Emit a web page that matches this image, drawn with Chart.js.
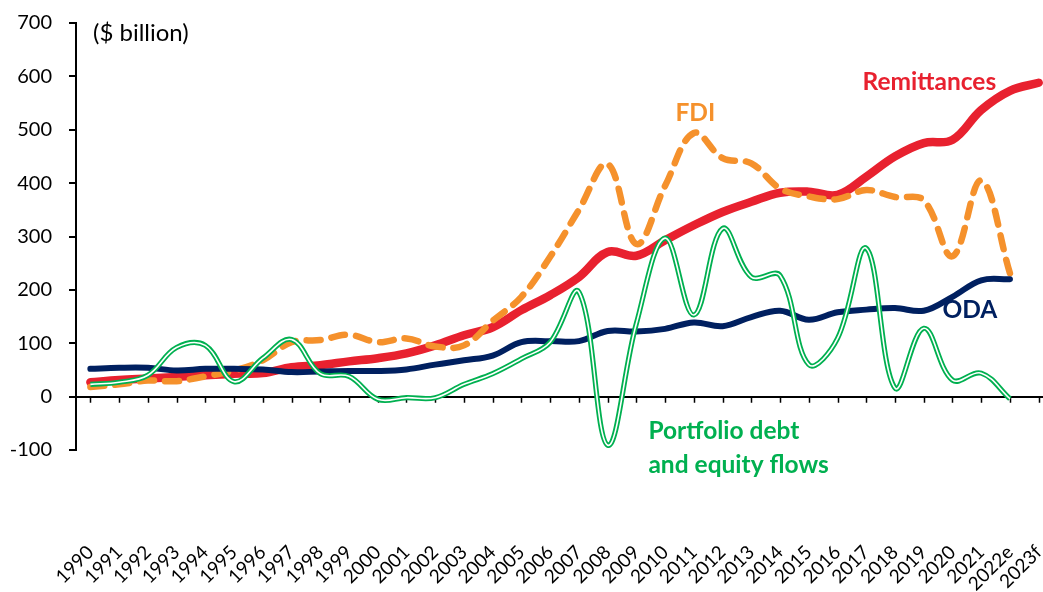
<!DOCTYPE html>
<html>
<head>
<meta charset="utf-8">
<script src="https://cdn.jsdelivr.net/npm/chart.js@4.4.0/dist/chart.umd.min.js"></script>
<style>
  html, body { margin: 0; padding: 0; background: #fff; }
  #wrap { width: 1043px; height: 592px; }
</style>
</head>
<body>
<div id="wrap"><canvas id="flows"></canvas></div>
<script>
// Resource flows to low- and middle-income countries ($ billion)
const years = ['1990', '1991', '1992', '1993', '1994', '1995', '1996', '1997', '1998', '1999',
    '2000', '2001', '2002', '2003', '2004', '2005', '2006', '2007', '2008', '2009',
    '2010', '2011', '2012', '2013', '2014', '2015', '2016', '2017', '2018', '2019',
    '2020', '2021', '2022e', '2023f'];

const remittances = [27, 31, 34, 37, 40, 43, 44, 55, 59, 66,
    72, 81, 96, 115, 130, 162, 190, 224, 271, 264,
    293, 321, 346, 365, 382, 384, 378, 412, 450, 475,
    481, 537, 573, 588];

const fdi = [18, 23, 30, 29, 38, 49, 68, 102, 106, 116,
    102, 109, 94, 96, 142, 187, 262, 350, 436, 286,
    395, 494, 447, 437, 390, 375, 370, 387, 374, 368,
    263, 405, 231, null];

const oda = [52, 54, 54, 49, 52, 52, 51, 46, 47, 48,
    48, 51, 60, 68, 77, 102, 104, 104, 123, 122,
    127, 139, 132, 149, 161, 144, 158, 163, 166, 161,
    187, 218, 220, null];

const portfolio = [23, 27, 40, 92, 96, 28, 72, 107, 43, 38,
    -5, -2, -2, 23, 43, 71, 102, 196, -91, 137,
    297, 153, 315, 224, 227, 60, 109, 278, 16, 128,
    31, 44, -4, null];

const yTicks = [-100, 0, 100, 200, 300, 400, 500, 600, 700];

const FONT = 'Lato, "Open Sans", "DejaVu Sans", sans-serif';

// turn a series into {x, y} points on the linear category axis
const xy = arr => arr.map((v, i) => ({ x: i, y: v }));

// small tick marks on the zero line
const zeroTicks = {
    id: 'zeroTicks',
    beforeDatasetsDraw(chart) {
        const { ctx, scales: { x, y } } = chart;
        const y0 = y.getPixelForValue(0);
        ctx.save();
        ctx.strokeStyle = '#000';
        ctx.lineWidth = 1.5;
        ctx.beginPath();
        x.ticks.forEach(t => {
            const px = Math.round(x.getPixelForValue(t.value)) + 0.5;
            ctx.moveTo(px, y0);
            ctx.lineTo(px, y0 + 6);
        });
        ctx.stroke();
        ctx.restore();
    }
};

// unit note and the series names written on the plot
const notes = {
    id: 'notes',
    afterDraw(chart) {
        const { ctx, chartArea, scales: { x, y } } = chart;
        ctx.save();
        ctx.textBaseline = 'alphabetic';
        ctx.textAlign = 'left';

        ctx.fillStyle = '#000';
        ctx.font = '24px ' + FONT;
        ctx.fillText('($ billion)', chartArea.left + 17, 41);

        ctx.font = 'bold 24.5px ' + FONT;
        const put = (text, color, i, v) => {
            ctx.fillStyle = color;
            ctx.fillText(text, x.getPixelForValue(i), y.getPixelForValue(v));
        };
        put('Remittances', '#E8212F', 26.87, 575);
        put('FDI', '#F5912C', 20.36, 517);
        put('ODA', '#002060', 29.65, 147);
        put('Portfolio debt', '#00B050', 19.42, -79);
        put('and equity flows', '#00B050', 19.42, -143);
        ctx.restore();
    }
};

const line = (data, color, width, extra) => Object.assign({
    data: xy(data),
    borderColor: color,
    borderWidth: width,
    pointRadius: 0,
    tension: 0.38,
    fill: false,
    borderCapStyle: 'round',
    borderJoinStyle: 'round'
}, extra || {});

new Chart(document.getElementById('flows'), {
    type: 'line',
    data: {
        datasets: [
            // index 0 is drawn on top
            line(portfolio, '#FFFFFF', 1.6, { label: 'Portfolio (inner)', borderCapStyle: 'butt' }),
            line(portfolio, '#00B050', 5.2, { label: 'Portfolio debt and equity flows', borderCapStyle: 'butt' }),
            line(oda, '#002060', 6, { label: 'ODA' }),
            line(fdi, '#F5912C', 6.5, { label: 'FDI', borderDash: [14, 11] }),
            line(remittances, '#E8212F', 8.5, { label: 'Remittances' })
        ]
    },
    options: {
        responsive: true,
        maintainAspectRatio: false,
        animation: false,
        layout: { padding: { top: 23, right: 0, bottom: 0, left: 0 } },
        plugins: {
            legend: { display: false },
            tooltip: { enabled: false }
        },
        scales: {
            x: {
                type: 'linear',
                min: -0.5,
                max: 33.15,
                afterBuildTicks: s => { s.ticks = years.map((_, i) => ({ value: i })); },
                afterFit: s => {
                    s.height = 142;
                    // the rotated labels sit inside the y-axis area, no side padding needed
                    s.paddingLeft = 0;
                    s.paddingRight = 0;
                },
                grid: { display: false, drawTicks: false },
                border: { display: false },
                ticks: {
                    autoSkip: false,
                    minRotation: 45,
                    maxRotation: 45,
                    padding: 91,
                    color: '#000',
                    font: { family: FONT, size: 19 },
                    callback: v => years[v]
                }
            },
            y: {
                min: -100,
                max: 700,
                afterBuildTicks: s => { s.ticks = yTicks.map(v => ({ value: v })); },
                afterFit: s => {
                    s.width = 76;
                    s.paddingTop = 0;
                    s.paddingBottom = 0;
                },
                border: { display: true, color: '#000', width: 2 },
                grid: {
                    drawOnChartArea: true,
                    color: c => (c.tick && c.tick.value === 0) ? '#000' : 'rgba(0,0,0,0)',
                    lineWidth: 2,
                    tickLength: 7,
                    tickColor: '#000',
                    tickWidth: 2
                },
                ticks: {
                    padding: 17,
                    color: '#000',
                    font: { family: FONT, size: 20 }
                }
            }
        }
    },
    plugins: [zeroTicks, notes]
});
</script>
</body>
</html>
